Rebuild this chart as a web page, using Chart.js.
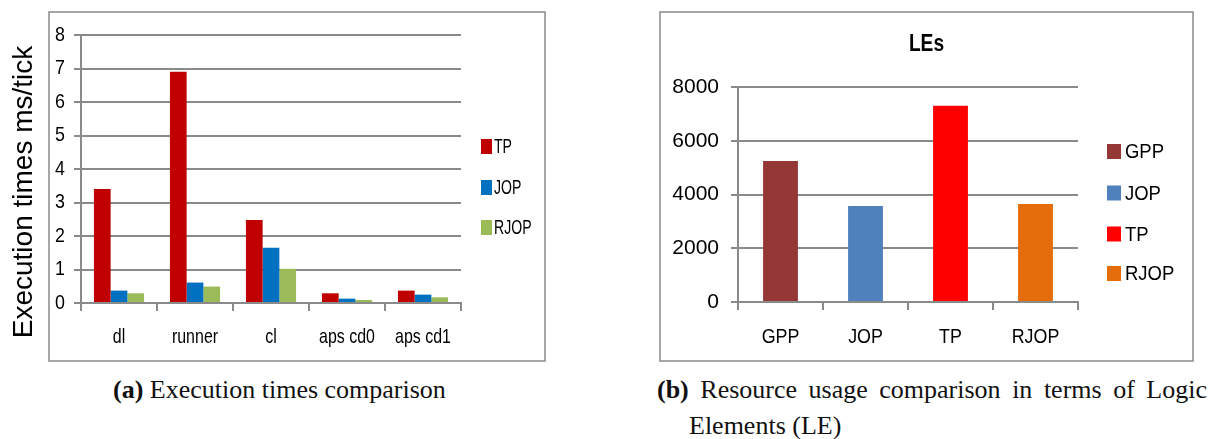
<!DOCTYPE html>
<html><head><meta charset="utf-8">
<script src="https://cdn.jsdelivr.net/npm/chart.js@4/dist/chart.umd.min.js"></script>
<style>
html,body{margin:0;padding:0;background:#fff;width:1218px;height:439px;overflow:hidden;position:relative}
#ca{position:absolute;left:0;top:0}
#cb{position:absolute;left:600px;top:0}
.cap{position:absolute;font-family:"Liberation Serif","Times New Roman",serif;font-size:26px;line-height:36px;color:#111}
</style></head><body>
<canvas id="ca" width="560" height="370"></canvas>
<canvas id="cb" width="618" height="370"></canvas>
<div class="cap" style="left:113px;top:372px;white-space:nowrap"><b>(a)</b> Execution times comparison</div>
<div class="cap" style="left:657px;top:372px;width:550px;box-sizing:border-box;padding-left:32px;text-indent:-32px;text-align:justify"><b>(b)</b> Resource usage comparison in terms of Logic Elements (LE)</div>
<script>
// ---- data: chart (a) ----
const categories = ['dl', 'runner', 'cl', 'aps cd0', 'aps cd1'];
const tpTimes   = [3.40, 6.90, 2.48, 0.29, 0.37];
const jopTimes  = [0.37, 0.61, 1.65, 0.13, 0.25];
const rjopTimes = [0.29, 0.49, 1.02, 0.09, 0.17];
const timeTicks = [0, 1, 2, 3, 4, 5, 6, 7, 8];
const timeAxisTitle = 'Execution times ms/tick';
// ---- data: chart (b) ----
const leCategories = ['GPP', 'JOP', 'TP', 'RJOP'];
const leValues = [5250, 3570, 7300, 3650];
const leTicks = [0, 2000, 4000, 6000, 8000];
const leTitle = 'LEs';

const GRID = '#8a8a8a';
const SANS = '"Liberation Sans",Arial,sans-serif';

// horizontally condense library-drawn text (the original uses a narrow font)
const squeezePlugin = {
  id: 'squeeze',
  beforeDraw(chart, args, o) {
    const ctx = chart.ctx;
    if (!ctx._origFill) ctx._origFill = ctx.fillText;
    const orig = ctx._origFill;
    ctx.fillText = function (text, x, y, maxW) {
      const f = o[this.textAlign] || 1;
      this.save();
      this.translate(x, y);
      this.scale(f, 1);
      if (maxW === undefined) orig.call(this, text, 0, 0); else orig.call(this, text, 0, 0, maxW);
      this.restore();
    };
  },
  afterDraw(chart) { if (chart.ctx._origFill) chart.ctx.fillText = chart.ctx._origFill; }
};

function squeezedText(ctx, text, x, y, f) {
  ctx.save();
  ctx.translate(x, y);
  ctx.scale(f, 1);
  ctx.fillText(text, 0, 0);
  ctx.restore();
}

const decorPlugin = {
  id: 'decor',
  afterDraw(chart, args, o) {
    const ctx = chart.ctx;
    ctx.save();
    ctx.strokeStyle = GRID; ctx.lineWidth = 1.5;
    ctx.strokeRect(o.frame[0], o.frame[1], o.frame[2], o.frame[3]);
    const L = o.legend;
    L.items.forEach((it, i) => {
      const cy = L.ys[i];
      ctx.fillStyle = it.color;
      ctx.fillRect(L.x, cy - L.boxH / 2, L.boxW, L.boxH);
      ctx.fillStyle = '#000';
      ctx.font = L.font;
      ctx.textBaseline = 'middle';
      ctx.textAlign = 'left';
      squeezedText(ctx, it.label, L.textX, cy + 1, L.squeeze);
    });
    if (o.yTitle) {
      const t = o.yTitle;
      ctx.translate(t.x, t.y);
      ctx.rotate(-Math.PI / 2);
      ctx.font = t.font; ctx.fillStyle = '#000';
      ctx.textAlign = 'center'; ctx.textBaseline = 'alphabetic';
      ctx.fillText(t.text, 0, 0);
      ctx.setTransform(1, 0, 0, 1, 0, 0);
    }
    if (o.title) {
      const t = o.title;
      ctx.font = t.font; ctx.fillStyle = '#000';
      ctx.textAlign = 'center'; ctx.textBaseline = 'middle';
      squeezedText(ctx, t.text, t.x, t.y, t.squeeze);
    }
    ctx.restore();
  }
};

const dsA = [
  { label: 'TP', data: tpTimes, backgroundColor: '#C00000' },
  { label: 'JOP', data: jopTimes, backgroundColor: '#0070C0' },
  { label: 'RJOP', data: rjopTimes, backgroundColor: '#9BBB59' }
];

new Chart(document.getElementById('ca'), {
  type: 'bar',
  data: { labels: categories, datasets: dsA },
  options: {
    responsive: false, animation: false, devicePixelRatio: 1,
    datasets: { bar: { categoryPercentage: 0.66, barPercentage: 1 } },
    layout: { padding: { left: 40, right: 99, top: 35, bottom: 0 } },
    plugins: {
      legend: { display: false }, tooltip: { enabled: false },
      squeeze: { center: 0.76, right: 0.85 },
      decor: {
        frame: [49, 12, 496, 349],
        legend: { items: dsA.map(d => ({ label: d.label, color: d.backgroundColor })),
          x: 481, ys: [146.5, 187.5, 227.5], boxW: 11, boxH: 15, textX: 494, font: '21px ' + SANS, squeeze: 0.67 },
        yTitle: { text: timeAxisTitle, x: 32, y: 192, font: '28px ' + SANS }
      }
    },
    scales: {
      x: {
        grid: { drawOnChartArea: false, drawTicks: true, tickLength: 8, color: GRID, lineWidth: 2, offset: true },
        border: { color: GRID, width: 2 },
        ticks: { font: { family: SANS, size: 21 }, color: '#000', padding: 14, maxRotation: 0, autoSkip: false },
        afterFit(s) { s.height = 67; }
      },
      y: {
        min: timeTicks[0], max: timeTicks[timeTicks.length - 1],
        afterBuildTicks(s) { s.ticks = timeTicks.map(v => ({ value: v })); },
        grid: { color: GRID, lineWidth: 2, tickLength: 7 },
        border: { color: GRID, width: 2 },
        ticks: { font: { family: SANS, size: 21 }, color: '#000', padding: 9, callback: v => String(v) },
        afterFit(s) { s.width = 41; }
      }
    }
  },
  plugins: [squeezePlugin, decorPlugin]
});

const leColors = ['#953735', '#4F81BD', '#FF0000', '#E46C0A'];

new Chart(document.getElementById('cb'), {
  type: 'bar',
  data: { labels: leCategories, datasets: [{ label: leTitle, data: leValues, backgroundColor: leColors }] },
  options: {
    responsive: false, animation: false, devicePixelRatio: 1,
    datasets: { bar: { categoryPercentage: 1, barPercentage: 0.41 } },
    layout: { padding: { left: 60, right: 140, top: 87, bottom: 0 } },
    plugins: {
      legend: { display: false }, tooltip: { enabled: false },
      squeeze: { center: 0.85, right: 1 },
      decor: {
        frame: [60, 12, 533, 349],
        legend: { items: leCategories.map((c, i) => ({ label: c, color: leColors[i] })),
          x: 507, ys: [151.5, 193, 234, 273.5], boxW: 14, boxH: 15, textX: 525, font: '21px ' + SANS, squeeze: 0.88 },
        title: { text: leTitle, x: 326.5, y: 44, font: 'bold 24px ' + SANS, squeeze: 0.8 }
      }
    },
    scales: {
      x: {
        grid: { drawOnChartArea: false, drawTicks: true, tickLength: 8, color: GRID, lineWidth: 2, offset: true },
        border: { color: GRID, width: 2 },
        ticks: { font: { family: SANS, size: 21 }, color: '#000', padding: 15, maxRotation: 0, autoSkip: false },
        afterFit(s) { s.height = 68; }
      },
      y: {
        min: leTicks[0], max: leTicks[leTicks.length - 1],
        afterBuildTicks(s) { s.ticks = leTicks.map(v => ({ value: v })); },
        grid: { color: GRID, lineWidth: 2, tickLength: 7 },
        border: { color: GRID, width: 2 },
        ticks: { font: { family: SANS, size: 21 }, color: '#000', padding: 12, callback: v => String(v) },
        afterFit(s) { s.width = 78; }
      }
    }
  },
  plugins: [squeezePlugin, decorPlugin]
});
</script>
</body></html>
